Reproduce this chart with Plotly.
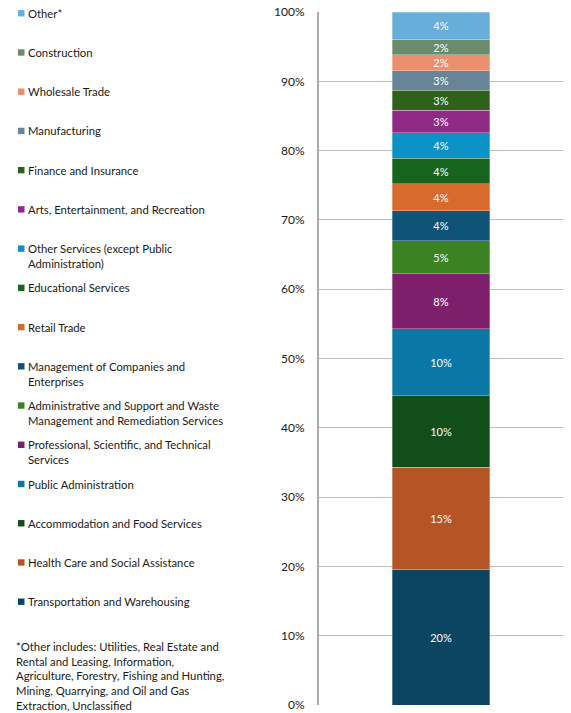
import plotly.graph_objects as go

# ---- data (bottom of stack first) ----
industries = [
    "Transportation and Warehousing",
    "Health Care and Social Assistance",
    "Accommodation and Food Services",
    "Public Administration",
    "Professional, Scientific, and Technical Services",
    "Administrative and Support and Waste Management and Remediation Services",
    "Management of Companies and Enterprises",
    "Retail Trade",
    "Educational Services",
    "Other Services (except Public Administration)",
    "Arts, Entertainment, and Recreation",
    "Finance and Insurance",
    "Manufacturing",
    "Wholesale Trade",
    "Construction",
    "Other*",
]
legend_labels = [
    "Transportation and Warehousing",
    "Health Care and Social Assistance",
    "Accommodation and Food Services",
    "Public Administration",
    "Professional, Scientific, and Technical<br>Services",
    "Administrative and Support and Waste<br>Management and Remediation Services",
    "Management of Companies and<br>Enterprises",
    "Retail Trade",
    "Educational Services",
    "Other Services (except Public<br>Administration)",
    "Arts, Entertainment, and Recreation",
    "Finance and Insurance",
    "Manufacturing",
    "Wholesale Trade",
    "Construction",
    "Other*",
]
shares = [19.6, 14.7, 10.3, 9.7, 7.9, 4.8, 4.3, 3.9, 3.7, 3.7, 3.2, 2.9, 2.8, 2.3, 2.3, 3.9]
colors = [
    "#0C4562", "#B55526", "#124E1A", "#0B77A7", "#7E1F6C", "#3B8223",
    "#0F5478", "#D86A2E", "#17641F", "#0A92C6", "#902A87", "#2E6119",
    "#688499", "#EB906F", "#6A8C6C", "#68AEDB",
]
y_ticks = [0, 10, 20, 30, 40, 50, 60, 70, 80, 90, 100]
y_tick_labels = [f"{v}%" for v in y_ticks]
footnote = ("*Other includes: Utilities, Real Estate and<br>Rental and Leasing, Information,<br>"
            "Agriculture, Forestry, Fishing and Hunting,<br>Mining, Quarrying, and Oil and Gas<br>"
            "Extraction, Unclassified")

FONT = "Lato"
W, H = 571, 713
ML, MR, MT, MB = 319, 8, 12, 8
PW, PH = W - ML - MR, H - MT - MB


def px_x(px):
    return (px - ML) / PW


def px_y(py):
    return (H - MB - py) / PH


fig = go.Figure()
for name, val, col in zip(industries, shares, colors):
    fig.add_trace(go.Bar(
        x=[""], y=[val], name=name, width=0.4,
        marker=dict(color=col, line=dict(color="rgba(255,255,255,0.5)", width=0.6)),
        texttemplate="%{y:.0f}%", textposition="inside", insidetextanchor="middle",
        constraintext="none",
        textfont=dict(family=FONT, size=11, color="white"),
        showlegend=False, hoverinfo="skip",
    ))

# custom legend (top = last stacked)
pitch = 39.23
base_y = 601.7
line_h = 15.2
annotations = []
shapes = []
for i, (lab, col) in enumerate(zip(legend_labels, colors)):
    yc = base_y - pitch * i
    nlines = lab.count("<br>") + 1
    ymid = yc + (nlines - 1) * line_h / 2
    shapes.append(dict(type="rect", xref="paper", yref="paper",
                       x0=px_x(18), x1=px_x(24.5), y0=px_y(yc + 3.2), y1=px_y(yc - 3.2),
                       fillcolor=col, line=dict(width=0)))
    annotations.append(dict(xref="paper", yref="paper", x=px_x(26), y=px_y(ymid),
                            xanchor="left", yanchor="middle", align="left", showarrow=False,
                            text=lab, font=dict(family=FONT, size=11.3, color="#1a1a1a")))

fn_first, fn_last = 647.7, 704
annotations.append(dict(xref="paper", yref="paper", x=px_x(14), y=px_y((fn_first + fn_last) / 2),
                        xanchor="left", yanchor="middle", align="left", showarrow=False,
                        text=footnote, font=dict(family=FONT, size=11.3, color="#1a1a1a")))

fig.update_layout(
    width=W, height=H,
    margin=dict(l=ML, r=MR, t=MT, b=MB, pad=0),
    barmode="stack",
    plot_bgcolor="white", paper_bgcolor="white",
    font=dict(family=FONT, size=11, color="#222222"),
    xaxis=dict(range=[-0.5, 0.5], showticklabels=False, showgrid=False, zeroline=False,
               showline=False, fixedrange=True, automargin=False),
    yaxis=dict(range=[0, 100], tickvals=y_ticks, ticktext=y_tick_labels, showgrid=True,
               gridcolor="#BDBDBD", gridwidth=1, zeroline=False, showline=True,
               linecolor="#ABABAB", linewidth=2, ticks="", ticklabelstandoff=10,
               automargin=False,
               tickfont=dict(family=FONT, size=12, color="#1a1a1a")),
    shapes=shapes, annotations=annotations,
    showlegend=False,
)

fig.write_html(
    "out.html",
    config={"displayModeBar": False},
    post_script="document.body.style.margin='0';document.body.style.padding='0';"
                "document.documentElement.style.overflow='hidden';document.body.style.overflow='hidden';",
)
